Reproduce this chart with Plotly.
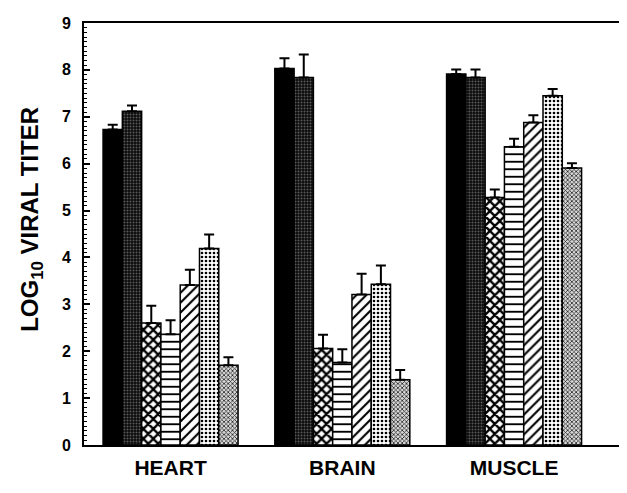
import plotly.graph_objects as go

tissues = ["HEART", "BRAIN", "MUSCLE"]
series_names = ["A", "B", "C", "D", "E", "F", "G"]

s1 = [6.73, 8.03, 7.91]
s2 = [7.12, 7.84, 7.84]
s3 = [2.60, 2.06, 5.28]
s4 = [2.36, 1.76, 6.36]
s5 = [3.41, 3.21, 6.88]
s6 = [4.19, 3.43, 7.45]
s7 = [1.70, 1.39, 5.91]

e1 = [0.10, 0.22, 0.10]
e2 = [0.12, 0.49, 0.17]
e3 = [0.37, 0.29, 0.17]
e4 = [0.30, 0.28, 0.17]
e5 = [0.33, 0.44, 0.15]
e6 = [0.30, 0.40, 0.14]
e7 = [0.17, 0.21, 0.10]

values = [s1, s2, s3, s4, s5, s6, s7]
errors = [e1, e2, e3, e4, e5, e6, e7]

styles = [
    dict(color="black"),
    dict(color="black", pattern=dict(shape=".", fgcolor="#5a5a5a", bgcolor="#0a0a0a", size=3, solidity=0.35, fillmode="replace")),
    dict(color="white", pattern=dict(shape="x", fgcolor="black", bgcolor="white", size=7, solidity=0.55, fillmode="replace")),
    dict(color="white", pattern=dict(shape="-", fgcolor="black", bgcolor="white", size=7.5, solidity=0.25, fillmode="replace")),
    dict(color="white", pattern=dict(shape="/", fgcolor="black", bgcolor="white", size=7, solidity=0.3, fillmode="replace")),
    dict(color="white", pattern=dict(shape=".", fgcolor="black", bgcolor="white", size=4, solidity=0.35, fillmode="replace")),
    dict(color="white", pattern=dict(shape="x", fgcolor="#222222", bgcolor="#d8d8d8", size=3, solidity=0.45, fillmode="replace")),
]

x = list(range(len(tissues)))
fig = go.Figure()
for name, vals, errs, st in zip(series_names, values, errors, styles):
    fig.add_trace(go.Bar(
        x=x, y=vals, name=name, showlegend=False,
        marker=dict(line=dict(color="black", width=1.5), **st),
        error_y=dict(type="data", symmetric=False, array=errs, arrayminus=[0] * len(errs),
                     color="black", thickness=2, width=5),
    ))

# page body has an 8px default margin, so margins are offset accordingly
fig.update_layout(
    width=627, height=493,
    margin=dict(l=76, r=11, t=7, b=56),
    paper_bgcolor="white", plot_bgcolor="white",
    barmode="group", bargap=0.214, bargroupgap=0,
    font=dict(family="Liberation Sans, Arial, sans-serif", color="black"),
)
fig.update_xaxes(
    range=[-0.504, 2.64], tickvals=x, ticktext=tissues, ticks="",
    showline=True, linecolor="black", linewidth=2, mirror=True,
    showgrid=False, zeroline=False,
    tickfont=dict(size=21, color="black", weight="bold"), ticklabelstandoff=3,
)
fig.update_yaxes(
    range=[0, 9], dtick=1, ticks="inside", ticklen=6, tickwidth=1.5, tickcolor="black",
    minor=dict(dtick=0.1, ticks="inside", ticklen=3, tickwidth=1, tickcolor="black", showgrid=False),
    showline=True, linecolor="black", linewidth=2, mirror=True,
    showgrid=False, zeroline=False,
    tickfont=dict(size=16, color="black", weight="bold"), ticklabelstandoff=8,
)
fig.add_annotation(
    text="LOG<sub>10</sub> VIRAL TITER", xref="paper", yref="paper",
    x=-0.097, y=0.535, textangle=-90, showarrow=False,
    font=dict(size=24, color="black", weight="bold", family="Liberation Sans, Arial, sans-serif"),
    xanchor="center", yanchor="middle",
)

fig.write_html("out.html")
